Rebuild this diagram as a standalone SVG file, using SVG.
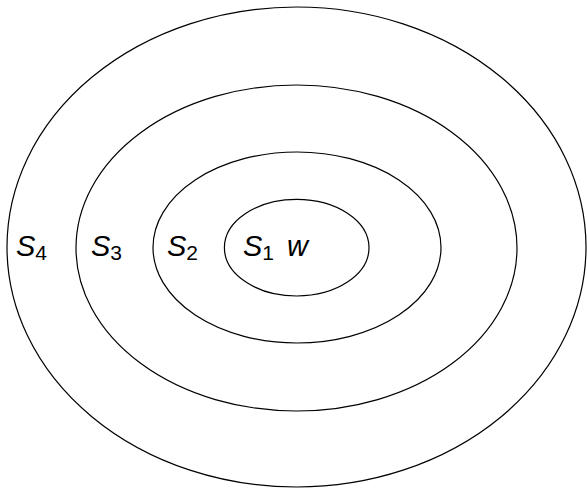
<svg xmlns="http://www.w3.org/2000/svg" width="587" height="489" viewBox="0 0 587 489">
<style>
.e{fill:none;stroke:#000;stroke-width:1.2}
.t{font-family:"Liberation Sans",Arial,sans-serif;font-size:29px;font-style:italic;fill:#000}
.s{font-style:normal;font-size:21px}
</style>
<rect width="587" height="489" fill="#fff"/>
<g id="S4"><ellipse class="e" cx="296.5" cy="247" rx="289.5" ry="240"/><text class="t" x="16" y="256">S<tspan class="s" dy="4">4</tspan></text></g>
<g id="S3"><ellipse class="e" cx="296.5" cy="248" rx="220.5" ry="163"/><text class="t" x="91" y="256">S<tspan class="s" dy="4">3</tspan></text></g>
<g id="S2"><ellipse class="e" cx="297" cy="247.5" rx="144" ry="95.5"/><text class="t" x="167" y="256">S<tspan class="s" dy="4">2</tspan></text></g>
<g id="S1"><ellipse class="e" cx="296.7" cy="247.7" rx="72.3" ry="48.3"/><text class="t" x="243" y="256">S<tspan class="s" dy="4">1</tspan></text><text class="t" x="287" y="256">w</text></g>
</svg>
